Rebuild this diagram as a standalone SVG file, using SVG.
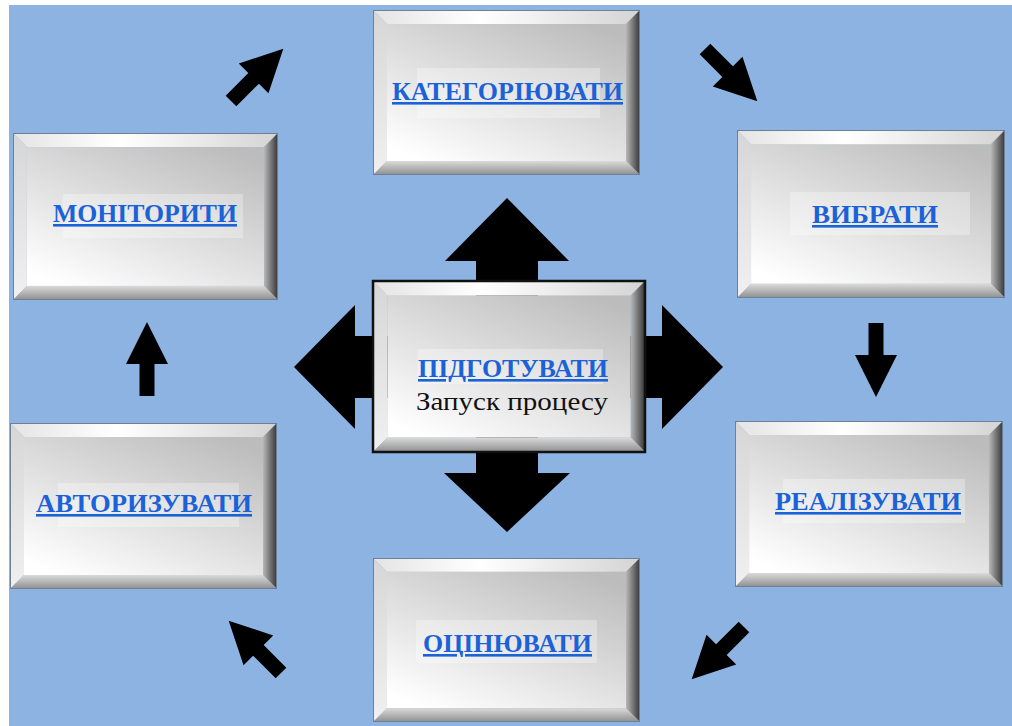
<svg xmlns="http://www.w3.org/2000/svg" xmlns:xlink="http://www.w3.org/1999/xlink" width="1012" height="726" viewBox="0 0 1012 726">
  <style>
    .lbl { font-family: "Liberation Serif", "DejaVu Serif", serif; font-weight: bold; font-size: 26px; fill: #1b62d8; text-anchor: middle; text-decoration: underline; }
    .sub { font-family: "Liberation Serif", "DejaVu Serif", serif; font-size: 26px; fill: #111; text-anchor: middle; }
    .hl { fill: #ffffff; fill-opacity: 0.3; }
    .flow { fill: #000; }
  </style>
  <defs>
    <linearGradient id="gFace" x1="0.85" y1="0" x2="0.15" y2="1">
      <stop offset="0" stop-color="#bcbcbc"/>
      <stop offset="1" stop-color="#ffffff"/>
    </linearGradient>
    <linearGradient id="gTop" x1="0" y1="0" x2="1" y2="0">
      <stop offset="0" stop-color="#e4e4e4"/>
      <stop offset="0.4" stop-color="#ffffff"/>
      <stop offset="1" stop-color="#d4d4d4"/>
    </linearGradient>
    <linearGradient id="gLeft" x1="0" y1="0" x2="0" y2="1">
      <stop offset="0" stop-color="#d6d6d6"/>
      <stop offset="1" stop-color="#f0f0f0"/>
    </linearGradient>
    <linearGradient id="gRight" x1="0" y1="0" x2="1" y2="0">
      <stop offset="0" stop-color="#b8b8b8"/>
      <stop offset="1" stop-color="#353535"/>
    </linearGradient>
    <linearGradient id="gBottom" x1="0" y1="0" x2="0" y2="1">
      <stop offset="0" stop-color="#dadada"/>
      <stop offset="1" stop-color="#8e8e8e"/>
    </linearGradient>
    <!-- bevelled button shape, 267 x 166 -->
    <symbol id="bevel" viewBox="0 0 267 166" preserveAspectRatio="none">
      <rect x="14" y="14" width="239" height="138" fill="url(#gFace)"/>
      <polygon points="0,0 267,0 253,14 14,14" fill="url(#gTop)"/>
      <polygon points="0,0 14,14 14,152 0,166" fill="url(#gLeft)"/>
      <polygon points="267,0 267,166 253,152 253,14" fill="url(#gRight)"/>
      <polygon points="0,166 14,152 253,152 267,166" fill="url(#gBottom)"/>
      <rect x="0.5" y="0.5" width="266" height="165" fill="none" stroke="#6f7f95" stroke-width="1"/>
    </symbol>
    <!-- small flow arrow, pointing up, tail at origin -->
    <path id="step" d="M-7.5,0 L-7.5,-32 L-21,-32 L0,-74 L21,-32 L7.5,-32 L7.5,0 Z"/>
  </defs>

  <rect x="0" y="0" width="1012" height="726" fill="#ffffff"/>
  <rect x="9" y="5" width="1003" height="721" fill="#8db3e2"/>

  <g id="connectors">
    <!-- four-way arrow behind the centre button -->
    <path class="flow" d="M476,261 L445,261 L507,198 L569,261 L538,261 L538,336 L662,336 L662,305 L723,367 L662,429 L662,398 L538,398 L538,473 L570,473 L507,532 L444,473 L476,473 L476,398 L355,398 L355,429 L294,367 L355,305 L355,336 L476,336 Z"/>
    <!-- cycle arrows -->
    <use xlink:href="#step" class="flow" transform="translate(231,101) rotate(45)"/>
    <use xlink:href="#step" class="flow" transform="translate(705,49) rotate(135)"/>
    <use xlink:href="#step" class="flow" transform="translate(876,323) rotate(180)"/>
    <use xlink:href="#step" class="flow" transform="translate(744,627) rotate(225)"/>
    <use xlink:href="#step" class="flow" transform="translate(281,673) rotate(315)"/>
    <use xlink:href="#step" class="flow" transform="translate(147,396)"/>
  </g>

  <g id="node-kategoriuvaty">
    <use xlink:href="#bevel" x="373" y="10" width="267" height="165"/>
    <rect class="hl" x="417" y="68" width="183" height="50"/>
    <text class="lbl" x="507.5" y="100" textLength="231" lengthAdjust="spacingAndGlyphs">КАТЕГОРІЮВАТИ</text>
  </g>

  <g id="node-vybraty">
    <use xlink:href="#bevel" x="737" y="130" width="268" height="168"/>
    <rect class="hl" x="790" y="192" width="180" height="43"/>
    <text class="lbl" x="875" y="223" textLength="126" lengthAdjust="spacingAndGlyphs">ВИБРАТИ</text>
  </g>

  <g id="node-realizuvaty">
    <use xlink:href="#bevel" x="735" y="421" width="268" height="166"/>
    <rect class="hl" x="783" y="479" width="182" height="44"/>
    <text class="lbl" x="868" y="510" textLength="186" lengthAdjust="spacingAndGlyphs">РЕАЛІЗУВАТИ</text>
  </g>

  <g id="node-otsiniuvaty">
    <use xlink:href="#bevel" x="373" y="558" width="267" height="164"/>
    <rect class="hl" x="416" y="620" width="181" height="43"/>
    <text class="lbl" x="507.5" y="652" textLength="169" lengthAdjust="spacingAndGlyphs">ОЦІНЮВАТИ</text>
  </g>

  <g id="node-avtoryzuvaty">
    <use xlink:href="#bevel" x="10" y="423" width="267" height="166"/>
    <rect class="hl" x="58" y="483" width="181" height="44"/>
    <text class="lbl" x="144" y="512" textLength="216" lengthAdjust="spacingAndGlyphs">АВТОРИЗУВАТИ</text>
  </g>

  <g id="node-monitoryty">
    <use xlink:href="#bevel" x="13" y="133" width="265" height="167"/>
    <rect class="hl" x="63" y="194" width="180" height="44"/>
    <text class="lbl" x="145" y="222" textLength="184" lengthAdjust="spacingAndGlyphs">МОНІТОРИТИ</text>
  </g>

  <g id="node-pidgotuvaty">
    <use xlink:href="#bevel" x="373" y="281" width="272" height="171"/>
    <rect x="373" y="281" width="272" height="171" fill="none" stroke="#111" stroke-width="2.5"/>
    <rect class="hl" x="418" y="349" width="185" height="35"/>
    <text class="lbl" x="513" y="377" textLength="190" lengthAdjust="spacingAndGlyphs">ПІДГОТУВАТИ</text>
    <text class="sub" x="512" y="410" textLength="192" lengthAdjust="spacingAndGlyphs">Запуск процесу</text>
  </g>
</svg>
